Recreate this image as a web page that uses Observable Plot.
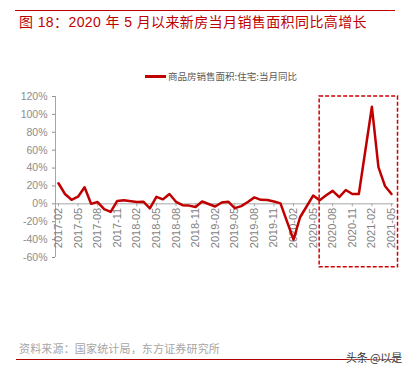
<!DOCTYPE html>
<html><head><meta charset="utf-8">
<script src="https://cdn.jsdelivr.net/npm/d3@7"></script>
<script src="https://cdn.jsdelivr.net/npm/@observablehq/plot@0.6"></script>
<style>
html,body{margin:0;padding:0;background:#fff;}
#wrap{position:relative;width:412px;height:372px;overflow:hidden;font-family:"Liberation Sans","Noto Sans CJK SC",sans-serif;}
#chart{position:absolute;left:0;top:0;}
.abs{position:absolute;white-space:nowrap;}
#topline{left:15px;top:10px;width:380px;height:1px;background:#c00000;}
#title{left:19px;top:12px;font-size:14px;line-height:21px;color:#c00000;}
#legline{left:145px;top:75px;width:21px;height:2.5px;background:#c00000;}
#legtext{left:168px;top:70px;font-size:9.5px;line-height:13px;color:#595959;font-family:"Noto Sans CJK SC",sans-serif;}
#source{left:19px;top:341px;font-size:11px;line-height:15px;color:#a6a6a6;font-family:"Noto Sans CJK SC",sans-serif;}
#botline{left:16px;top:359px;width:379px;height:1px;background:#b00000;}
#mark{left:346px;top:350px;font-size:11px;line-height:15px;color:#333;font-family:"Noto Sans CJK SC",sans-serif;text-shadow:0 0 2px #fff,0 0 2px #fff;}
</style></head>
<body>
<div id="wrap">
  <div id="chart"></div>
  <div class="abs" id="topline"></div>
  <div class="abs" id="title">图 18：2020 年 5 月以来新房当月销售面积同比高增长</div>
  <div class="abs" id="legline"></div>
  <div class="abs" id="legtext">商品房销售面积:住宅:当月同比</div>
  <div class="abs" id="source">资料来源：国家统计局，东方证券研究所</div>
  <div class="abs" id="botline"></div>
  <div class="abs" id="mark">头条 @以是</div>
</div>
<script>
const months = [
  "2017-02","2017-03","2017-04","2017-05","2017-06","2017-07","2017-08","2017-09","2017-10","2017-11","2017-12",
  "2018-01","2018-02","2018-03","2018-04","2018-05","2018-06","2018-07","2018-08","2018-09","2018-10","2018-11","2018-12",
  "2019-01","2019-02","2019-03","2019-04","2019-05","2019-06","2019-07","2019-08","2019-09","2019-10","2019-11","2019-12",
  "2020-01","2020-02","2020-03","2020-04","2020-05","2020-06","2020-07","2020-08","2020-09","2020-10","2020-11","2020-12",
  "2021-01","2021-02","2021-03","2021-04","2021-05"
];
// 商品房销售面积:住宅:当月同比 (%), January not published separately
const yoy = [
  23, 11, 4.5, 8, 18.5, 0, 2, -6, -9, 3.2, 4,
  null, 2, 2.4, -5, 7.8, 5, 11, 2.3, -1.5, -2, -3.5, 2.6,
  null, -3, 1.5, 2.4, -4.8, -2.6, 2, 7.2, 4.5, 4.2, 2.6, 0.5,
  null, -40, -15, -3, 9.3, 4, 9.5, 14.5, 7.5, 15.5, 11, 11,
  null, 108.5, 41, 20, 11
];
const xTickLabels = ["2017-02","2017-05","2017-08","2017-11","2018-02","2018-05","2018-08","2018-11","2019-02","2019-05","2019-08","2019-11","2020-02","2020-05","2020-08","2020-11","2021-02","2021-05"];
const yTicks = [-60,-40,-20,0,20,40,60,80,100,120];
const highlightFrom = "2020-06";
const highlightSpan = 12;   // months
const highlightY = [-71, 120];

const data = months.map((m, i) => ({i, m, v: yoy[i]})).filter(d => d.v != null);
const tickIdx = xTickLabels.map(l => months.indexOf(l));
const h0 = months.indexOf(highlightFrom);
const xDomain = [-0.45, months.length - 0.6];

const chart = Plot.plot({
  width: 412,
  height: 372,
  marginLeft: 55,
  marginRight: 18.4,
  marginTop: 96,
  marginBottom: 115,
  style: {fontFamily: '"Liberation Sans","Noto Sans CJK SC",sans-serif', background: "transparent", overflow: "visible"},
  x: {domain: xDomain, axis: null},
  y: {domain: [-60, 120], axis: null},
  marks: [
    Plot.ruleX([xDomain[0]], {stroke: "#a6a6a6", strokeWidth: 1}),
    Plot.ruleY([0], {stroke: "#a6a6a6", strokeWidth: 1}),
    Plot.axisY({ticks: yTicks, tickFormat: d => d + "%", tickSize: 3, tickPadding: 5, fontSize: 10.5, color: "#8c8c8c"}),
    Plot.ruleX(tickIdx, {x: d => d, y1: 0, y2: 0, insetBottom: -3, stroke: "#a6a6a6"}),
    Plot.text(tickIdx, {x: d => d, y: 0, text: d => months[d], rotate: -90, textAnchor: "end", dy: 4, fontSize: 11, fill: "#7f7f7f"}),
    Plot.line(data, {x: "i", y: "v", stroke: "#c00000", strokeWidth: 2.5, strokeLinejoin: "round"}),
    Plot.rect([{x1: h0, x2: h0 + highlightSpan, y1: highlightY[0], y2: highlightY[1]}],
      {x1: "x1", x2: "x2", y1: "y1", y2: "y2", fill: "none", stroke: "#d00000", strokeWidth: 1.5, strokeDasharray: "4,2"})
  ]
});
document.getElementById("chart").appendChild(chart);

function fit(id, target) {
  const el = document.getElementById(id);
  const w = el.getBoundingClientRect().width;
  const n = el.textContent.length;
  el.style.letterSpacing = ((target - w) / n) + "px";
}
fit("title", 348);
fit("legtext", 129);
fit("source", 201);
fit("mark", 56);
</script>
</body></html>
